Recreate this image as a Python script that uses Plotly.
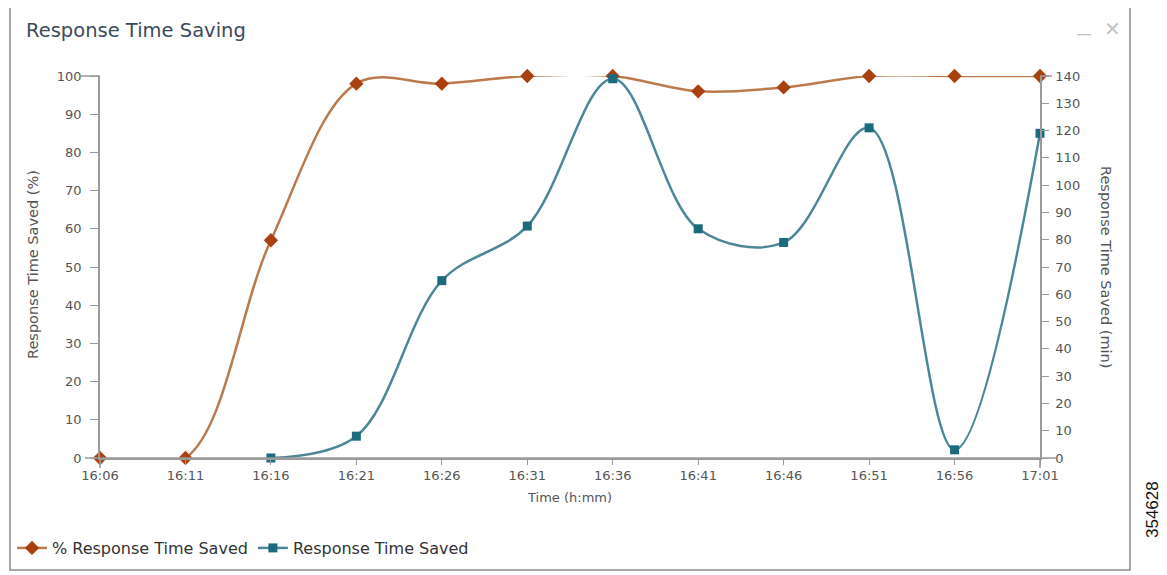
"""Response Time Saving chart: % saved and minutes saved over time."""

import plotly.graph_objects as go

# ---------------------------------------------------------------------------
# Data
# ---------------------------------------------------------------------------

times = ["16:06", "16:11", "16:16", "16:21", "16:26", "16:31",
         "16:36", "16:41", "16:46", "16:51", "16:56", "17:01"]

pct_saved = [0, 0, 57, 98, 98, 100, 100, 96, 97, 100, 100, 100]

min_times = times[2:]
min_saved = [0, 8, 65, 85, 139, 84, 79, 121, 3, 119]

# ---------------------------------------------------------------------------
# Styling
# ---------------------------------------------------------------------------

_FONT = "DejaVu Sans"
_AXIS = "#9a9a9a"
_TICK_TXT = "#555555"

_COLORS = {
    "orange_line": "#bb7a4c",
    "orange_mark": "#a9400f",
    "blue_line": "#4d8797",
    "blue_mark": "#1c6a7e",
}

# the page body adds an 8px offset around the figure
_OFF = 8
_FIG_W, _FIG_H = 1167, 575

# screen-pixel geometry of the plot area
_L, _R, _T, _B = 100, 1040, 76, 458
_W, _H = _R - _L, _B - _T


def px_x(x):
    return (x - _L) / _W


def px_y(y):
    return (_B - y) / _H


def _label(text, x, y, size, color, angle=0, family=_FONT):
    """Paper-positioned text centred on a screen pixel."""
    return {
        "text": text, "xref": "paper", "yref": "paper",
        "x": px_x(x), "y": px_y(y), "xanchor": "center", "yanchor": "middle",
        "textangle": angle, "showarrow": False,
        "font": {"family": family, "size": size, "color": color},
    }


def _pline(x0, x1, y0, y1):
    return {
        "type": "line", "xref": "paper", "yref": "paper",
        "x0": x0, "x1": x1, "y0": y0, "y1": y1,
        "line": {"color": _AXIS, "width": 1.5},
    }


fig = go.Figure()

fig.add_trace(
    go.Scatter(
        x=times,
        y=pct_saved,
        mode="lines+markers",
        name="% Response Time Saved",
        line={"color": _COLORS["orange_line"], "width": 2.5, "shape": "spline", "smoothing": 1},
        marker={"symbol": "diamond", "size": 11, "color": _COLORS["orange_mark"]},
        cliponaxis=False,
    )
)
fig.add_trace(
    go.Scatter(
        x=min_times,
        y=min_saved,
        mode="lines+markers",
        name="Response Time Saved",
        yaxis="y2",
        line={"color": _COLORS["blue_line"], "width": 2.5, "shape": "spline", "smoothing": 1},
        marker={"symbol": "square", "size": 9, "color": _COLORS["blue_mark"]},
        cliponaxis=False,
    )
)

axis_common = {
    "showgrid": False,
    "zeroline": False,
    "showline": True,
    "linecolor": _AXIS,
    "linewidth": 1.5,
    "ticks": "outside",
    "tickcolor": _AXIS,
    "tickfont": {"family": _FONT, "size": 13, "color": _TICK_TXT},
}

fig.update_layout(
    width=_FIG_W,
    height=_FIG_H,
    paper_bgcolor="white",
    plot_bgcolor="white",
    margin={
        "l": _L - _OFF,
        "r": _FIG_W - (_R - _OFF),
        "t": _T - _OFF,
        "b": _FIG_H - (_B - _OFF),
        "autoexpand": False,
    },
    font={"family": _FONT, "color": "#333333"},
    xaxis={
        **axis_common,
        "type": "category",
        "categoryorder": "array",
        "categoryarray": times,
        "range": [0, len(times) - 1],
        "ticklen": 5,
    },
    yaxis={**axis_common, "range": [0, 100], "dtick": 10, "ticklen": 8,
           "ticklabelstandoff": 6},
    yaxis2={
        **axis_common,
        "overlaying": "y",
        "side": "right",
        "range": [0, 140],
        "dtick": 10,
        "ticklen": 7,
        "ticklabelstandoff": 4,
    },
    showlegend=True,
    legend={
        "orientation": "h",
        "x": px_x(12),
        "y": px_y(548),
        "xanchor": "left",
        "yanchor": "middle",
        "font": {"family": _FONT, "size": 16, "color": "#333333"},
        "itemwidth": 30,
        "tracegroupgap": 0,
        "bgcolor": "rgba(0,0,0,0)",
    },
    shapes=[
        # outer panel border
        {
            "type": "rect", "xref": "paper", "yref": "paper",
            "x0": px_x(10), "x1": px_x(1130), "y0": px_y(570), "y1": px_y(7),
            "line": {"color": "#8c8c8c", "width": 1.5},
        },
        # x axis line extended past both y axes
        _pline(px_x(85), px_x(1056), 0, 0),
        # vertical axes reach slightly below the x axis
        _pline(0, 0, 0, px_y(468)),
        _pline(1, 1, 0, px_y(468)),
        # longer top ticks
        _pline(px_x(80), 0, 1, 1),
        _pline(1, px_x(1052), 1, 1),
    ],
    annotations=[
        {
            "text": "Response Time Saving", "xref": "paper", "yref": "paper",
            "x": px_x(24), "y": px_y(31), "xanchor": "left", "yanchor": "middle",
            "showarrow": False,
            "font": {"family": _FONT, "size": 19.5, "color": "#3b4b5c"},
        },
        _label("Response Time Saved (%)", 33, 265, 14.5, _TICK_TXT, angle=-90),
        _label("Response Time Saved (min)", 1106, 267, 14.5, _TICK_TXT, angle=90),
        _label("Time (h:mm)", 569, 497, 13, _TICK_TXT),
        _label("—", 1084, 34, 16, "#c4c4c4"),
        _label("✕", 1112, 29, 20, "#c4c4c4"),
        _label("354628", 1152, 510, 17, "#111111", angle=-90, family="Liberation Sans"),
    ],
)

fig.write_html("out.html")
